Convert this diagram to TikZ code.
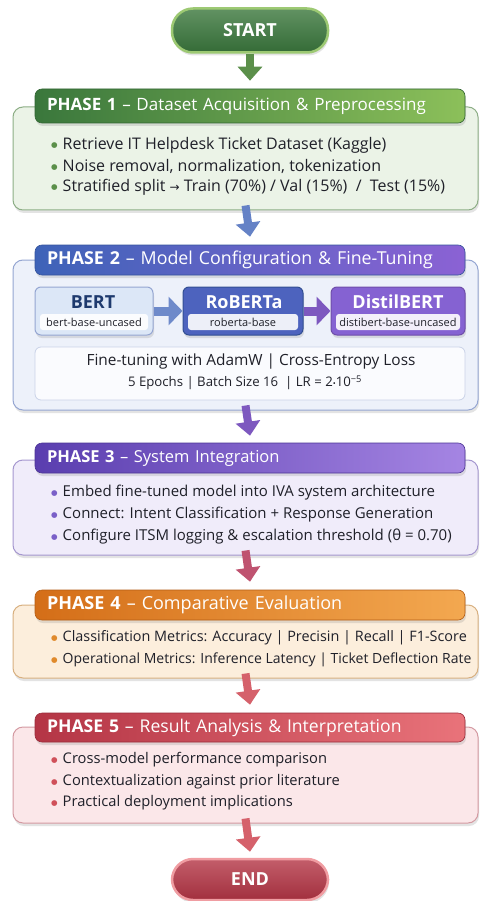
\documentclass[tikz,border=0pt]{standalone}
\usepackage{fontspec}
\setmainfont{Open Sans}
\newfontfamily\symf{DejaVu Sans}
\usetikzlibrary{arrows.meta,shadows}
\definecolor{txt}{HTML}{1F2029}
\definecolor{gA}{HTML}{3A773C}\definecolor{gB}{HTML}{8CC05A}\definecolor{gF}{HTML}{EBF3E7}\definecolor{gD}{HTML}{8DAE86}\definecolor{gP}{HTML}{5B8F4A}
\definecolor{bA}{HTML}{3E63B8}\definecolor{bB}{HTML}{8B62D4}\definecolor{bF}{HTML}{EDF1FA}\definecolor{bD}{HTML}{95A6D2}
\definecolor{pA}{HTML}{5A3EAF}\definecolor{pB}{HTML}{A585E3}\definecolor{pF}{HTML}{F0ECFA}\definecolor{pD}{HTML}{A597CF}\definecolor{pP}{HTML}{7A60C8}
\definecolor{oA}{HTML}{D46E18}\definecolor{oB}{HTML}{F3A850}\definecolor{oF}{HTML}{FCEEDC}\definecolor{oD}{HTML}{D8B080}\definecolor{oP}{HTML}{E08A2C}
\definecolor{rA}{HTML}{B43545}\definecolor{rB}{HTML}{E9737A}\definecolor{rF}{HTML}{FBE7E9}\definecolor{rD}{HTML}{D49AA2}\definecolor{rP}{HTML}{D0505A}
\definecolor{navy}{HTML}{1E3A6E}
\definecolor{bertF}{HTML}{DCE7F7}
\newcommand{\bul}[1]{\raisebox{1.6pt}{\color{#1}\symf\fontsize{7.5}{8}\selectfont●}}
\tikzset{
  shd/.style={drop shadow={opacity=0.22,shadow xshift=1pt,shadow yshift=-3pt}},
  body/.style 2 args={draw=#1, fill=#2, rounded corners=10pt, line width=1pt, shd, minimum width=465pt, inner sep=0pt},
  hdr/.style 2 args={rounded corners=7pt, left color=#1, right color=#2, draw=#1!85!black, line width=0.6pt, shd,
     minimum width=430pt, text width=406pt, inner xsep=12pt, inner ysep=0pt, align=left, text=white},
  bl/.style={anchor=west, inner sep=0pt, text=txt},
  pill/.style 2 args={rounded corners=21pt, top color=#1!80!white, bottom color=#1!90!black, draw=#2, line width=2.5pt, shd,
     minimum width=156pt, text=white, font=\bfseries\fontsize{18}{20}\selectfont},
  arr/.style={line width=8pt, draw=#1, -{Triangle[width=24pt,length=14pt]}},
  marr/.style={line width=9pt, draw=#1, -{Triangle[width=28pt,length=14pt]}},
  mbox/.style 2 args={draw=#1, fill=#2, rounded corners=6pt, line width=1pt, minimum height=48pt, inner sep=0pt, shd},
  mtit/.style={inner sep=0pt, font=\bfseries\fontsize{18}{20}\selectfont},
  msub/.style={fill=white, fill opacity=0.9, text opacity=1, rounded corners=3pt, inner sep=0pt, minimum height=16pt, text=txt, font=\fontsize{11}{13}\selectfont},
  fline/.style={inner sep=0pt, text=txt}
}
\begin{document}
\begin{tikzpicture}[x=1pt,y=-1pt]
\useasboundingbox (0,0) rectangle (480,901);
\fill[white] (0,0) rectangle (480,901);

% START
\node[pill={gA}{gB!85!white}, minimum height=44pt] (start) at (250,30.5) {START};

% PHASE 1
\node[body={gD}{gF}, minimum height=103pt] (b1) at (245.5,158.5) {};
\node[hdr={gA}{gB}, minimum height=34pt, font=\fontsize{17}{19}\selectfont] (h1) at (250,106) {\textbf{PHASE 1} – Dataset Acquisition \& Preprocessing};
\begin{scope}[every node/.append style={font=\fontsize{16}{18}\selectfont}]
\node[bl] (p1a) at (51,145) {\bul{gP}\hspace{5pt}Retrieve IT Helpdesk Ticket Dataset (Kaggle)};
\node[bl] (p1b) at (51,166) {\bul{gP}\hspace{5pt}Noise removal, normalization, tokenization};
\node[bl] (p1c) at (51,187) {\bul{gP}\hspace{5pt}Stratified split {\symf\fontsize{12}{13}\selectfont →} Train (70\%) / Val (15\%) \ / \ Test (15\%)};
\end{scope}

% PHASE 2
\node[body={bD}{bF}, minimum height=150pt] (b2) at (245.5,335) {};
\node[hdr={bA}{bB}, minimum height=30pt, font=\fontsize{17.8}{19}\selectfont] (h2) at (250,260) {\textbf{PHASE 2} – Model Configuration \& Fine-Tuning};
\node[mbox={bD}{bertF}, minimum width=118pt] (m1) at (94,311) {};
\node[mtit, text=navy] (m1t) at (93,302) {BERT};
\node[msub, minimum width=108pt] (m1s) at (94,322) {bert-base-uncased};
\node[mbox={bA!80!black}{bA!80!bB}, minimum width=120pt] (m2) at (243,311) {};
\node[mtit, text=white] (m2t) at (244,302) {RoBERTa};
\node[msub, minimum width=110pt] (m2s) at (243,322) {roberta-base};
\node[mbox={bB!80!black}{bB!92!bA}, minimum width=134pt] (m3) at (398,311) {};
\node[mtit, text=white] (m3t) at (398,302) {DistilBERT};
\node[msub, minimum width=124pt] (m3s) at (398,322) {distibert-base-uncased};
\draw[marr={bA!75!white}] (m1.east) -- (m2.west);
\draw[marr={bB!90!black}] (m2.east) -- (m3.west);
\node[draw=bD!50!white, fill=white!70!bF, rounded corners=6pt, line width=0.8pt, minimum width=430pt, minimum height=53pt, inner sep=0pt] (ft) at (250,373.5) {};
\node[fline, font=\fontsize{15.4}{17}\selectfont] (ft1) at (251,362) {Fine-tuning with AdamW | Cross-Entropy Loss};
\node[fline, font=\fontsize{13.2}{15}\selectfont] (ft2) at (245,383) {5 Epochs | Batch Size 16 \ | LR = 2{\fontsize{8}{8}\selectfont•}10\textsuperscript{−5}};

% PHASE 3
\node[body={pD}{pF}, minimum height=95pt] (b3) at (245.5,507.5) {};
\node[hdr={pA}{pB}, minimum height=30pt, font=\fontsize{16.5}{19}\selectfont] (h3) at (250,458) {\textbf{PHASE 3} – System Integration};
\begin{scope}[every node/.append style={font=\fontsize{15}{17}\selectfont}]
\node[bl] (p3a) at (51,493) {\bul{pP}\hspace{5pt}Embed fine-tuned model into IVA system architecture};
\node[bl] (p3b) at (51,515) {\bul{pP}\hspace{5pt}Connect: Intent Classification + Response Generation};
\node[bl] (p3c) at (51,537) {\bul{pP}\hspace{5pt}Configure ITSM logging \& escalation threshold (θ = 0.70)};
\end{scope}

% PHASE 4
\node[body={oD}{oF}, minimum height=73pt] (b4) at (245.5,641.5) {};
\node[hdr={oA}{oB}, minimum height=30pt, font=\fontsize{18}{19}\selectfont] (h4) at (250,605) {\textbf{PHASE 4} – Comparative Evaluation};
\node[bl, font=\fontsize{14.4}{17}\selectfont] (p4a) at (51,638) {\bul{oP}\hspace{5pt}Classification Metrics: Accuracy | Precisin | Recall | F1-Score};
\node[bl, font=\fontsize{14}{17}\selectfont] (p4b) at (51,660) {\bul{oP}\hspace{5pt}Operational Metrics: Inference Latency | Ticket Deflection Rate};

% PHASE 5
\node[body={rD}{rF}, minimum height=96pt] (b5) at (245.5,775) {};
\node[hdr={rA}{rB}, minimum height=29pt, font=\fontsize{17.6}{19}\selectfont] (h5) at (250,727.5) {\textbf{PHASE 5} – Result Analysis \& Interpretation};
\begin{scope}[every node/.append style={font=\fontsize{14.7}{17}\selectfont}]
\node[bl] (p5a) at (51,760) {\bul{rP}\hspace{5pt}Cross-model performance comparison};
\node[bl] (p5b) at (51,782) {\bul{rP}\hspace{5pt}Contextualization against prior literature};
\node[bl] (p5c) at (51,803) {\bul{rP}\hspace{5pt}Practical deployment implications};
\end{scope}

% END
\node[pill={rA}{rB!70!white}, minimum height=41pt] (end) at (250,879.5) {END};

% connectors
\draw[arr={gP}] (start.south) -- ([yshift=8pt]h1.north);
\draw[arr={bA!80!white}] ([yshift=5pt]b1.south) -- ([yshift=8pt]h2.north);
\draw[arr={bB!90!black}] ([yshift=5pt]b2.south) -- ([yshift=7pt]h3.north);
\draw[arr={rP!80!pP}] ([yshift=5pt]b3.south) -- ([yshift=8pt]h4.north);
\draw[arr={rP!90!white}] ([yshift=5pt]b4.south) -- ([yshift=8pt]h5.north);
\draw[arr={rP!90!white}] ([yshift=5pt]b5.south) -- ([yshift=6pt]end.north);
\end{tikzpicture}
\end{document}
